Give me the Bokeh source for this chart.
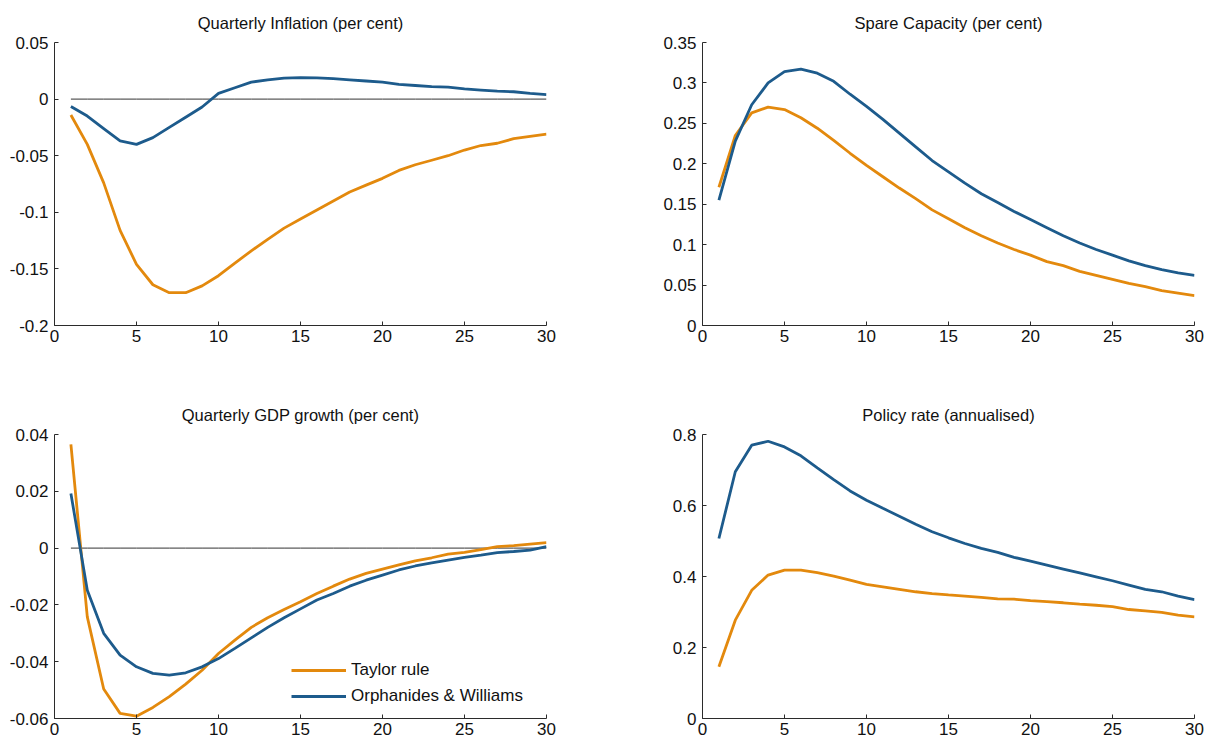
from bokeh.plotting import figure
from bokeh.layouts import column, row
from bokeh.models import (Legend, LegendItem, FixedTicker, Range1d,
                          CustomJSTickFormatter)
from bokeh.embed import file_html
from bokeh.resources import INLINE

# ---------------- data ----------------
quarters = list(range(1, 31))
zeros = [0.0] * len(quarters)

infl_taylor = [-0.014, -0.040, -0.074, -0.116, -0.146, -0.164, -0.171, -0.171, -0.165, -0.156,
               -0.145, -0.134, -0.124, -0.114, -0.106, -0.098, -0.090, -0.082, -0.076, -0.070,
               -0.063, -0.058, -0.054, -0.050, -0.045, -0.041, -0.039, -0.035, -0.033, -0.031]
infl_ow = [-0.0065, -0.015, -0.026, -0.037, -0.040, -0.034, -0.025, -0.016, -0.007, 0.005,
           0.010, 0.015, 0.017, 0.0185, 0.019, 0.0188, 0.018, 0.017, 0.016, 0.015,
           0.013, 0.012, 0.011, 0.0105, 0.009, 0.008, 0.007, 0.0065, 0.005, 0.004]

spare_taylor = [0.171, 0.235, 0.263, 0.270, 0.267, 0.257, 0.244, 0.229, 0.213, 0.198,
                0.184, 0.170, 0.157, 0.143, 0.132, 0.121, 0.111, 0.102, 0.094, 0.087,
                0.079, 0.074, 0.067, 0.062, 0.057, 0.052, 0.048, 0.043, 0.040, 0.037]
spare_ow = [0.155, 0.228, 0.273, 0.300, 0.314, 0.317, 0.312, 0.302, 0.286, 0.271,
            0.255, 0.238, 0.221, 0.204, 0.190, 0.176, 0.163, 0.152, 0.141, 0.131,
            0.121, 0.111, 0.102, 0.094, 0.087, 0.080, 0.074, 0.069, 0.065, 0.062]

gdp_taylor = [0.0365, -0.0242, -0.0496, -0.0582, -0.0592, -0.0561, -0.0523, -0.0479, -0.0430, -0.0371,
              -0.0324, -0.0279, -0.0245, -0.0216, -0.0189, -0.0160, -0.0134, -0.0109, -0.0089, -0.0074,
              -0.0059, -0.0045, -0.0034, -0.0021, -0.0015, -0.0005, 0.0005, 0.0009, 0.0014, 0.0019]
gdp_ow = [0.0192, -0.0148, -0.0300, -0.0377, -0.0418, -0.0441, -0.0447, -0.0439, -0.0418, -0.0389,
          -0.0353, -0.0316, -0.0279, -0.0245, -0.0214, -0.0183, -0.0160, -0.0134, -0.0113, -0.0095,
          -0.0077, -0.0063, -0.0052, -0.0042, -0.0033, -0.0025, -0.0016, -0.0012, -0.0007, 0.0005]

policy_taylor = [0.146, 0.277, 0.361, 0.404, 0.418, 0.418, 0.411, 0.401, 0.390, 0.378,
                 0.371, 0.364, 0.357, 0.352, 0.348, 0.345, 0.341, 0.337, 0.336, 0.332,
                 0.329, 0.326, 0.322, 0.319, 0.315, 0.307, 0.303, 0.299, 0.291, 0.286]
policy_ow = [0.507, 0.695, 0.770, 0.781, 0.765, 0.740, 0.706, 0.673, 0.641, 0.615,
             0.592, 0.570, 0.547, 0.526, 0.509, 0.493, 0.479, 0.468, 0.454, 0.443,
             0.432, 0.421, 0.410, 0.399, 0.388, 0.376, 0.364, 0.357, 0.345, 0.335]

x_ticks = [0, 5, 10, 15, 20, 25, 30]
infl_ticks = [-0.2, -0.15, -0.1, -0.05, 0, 0.05]
spare_ticks = [0, 0.05, 0.1, 0.15, 0.2, 0.25, 0.3, 0.35]
gdp_ticks = [-0.06, -0.04, -0.02, 0, 0.02, 0.04]
policy_ticks = [0, 0.2, 0.4, 0.6, 0.8]

titles = ["Quarterly Inflation (per cent)", "Spare Capacity (per cent)",
          "Quarterly GDP growth (per cent)", "Policy rate (annualised)"]
series_names = ["Taylor rule", "Orphanides & Williams"]

ORANGE = "#E3890D"
BLUE = "#1D5B8C"
FONT = "Liberation Sans"
AXIS = "#2b2b2b"

fmt = CustomJSTickFormatter(code="return String(Math.round(tick*1000)/1000);")


def panel(title, yticks, taylor, ow, left, right, top, bottom, fh, zero=True):
    p = figure(frame_width=492, frame_height=fh,
               min_border_left=left, min_border_right=right,
               min_border_top=top, min_border_bottom=bottom,
               x_range=Range1d(0, 30), y_range=Range1d(yticks[0], yticks[-1]),
               output_backend="svg", toolbar_location=None,
               background_fill_color="white", border_fill_color="white")
    p.outline_line_color = None
    p.xgrid.grid_line_color = None
    p.ygrid.grid_line_color = None
    p.title.text = title
    p.title.align = "center"
    p.title.vertical_align = "middle"
    p.title.text_font = FONT
    p.title.text_font_style = "normal"
    p.title.text_font_size = "16.5px"
    p.title.text_color = "#111111"
    p.title.standoff = 20

    p.xaxis.ticker = FixedTicker(ticks=x_ticks)
    p.yaxis.ticker = FixedTicker(ticks=yticks)
    p.yaxis.formatter = fmt
    for ax in (p.xaxis[0], p.yaxis[0]):
        ax.major_tick_in = 4
        ax.major_tick_out = 0
        ax.minor_tick_in = 0
        ax.minor_tick_out = 0
        ax.axis_line_color = AXIS
        ax.major_tick_line_color = AXIS
        ax.major_label_text_font = FONT
        ax.major_label_text_font_size = "17px"
        ax.major_label_text_color = "#111111"
    p.xaxis.major_label_standoff = 4
    p.yaxis.major_label_standoff = 6

    if zero:
        p.line(quarters, zeros, line_color="#333333", line_width=1)
    rt = p.line(quarters, taylor, line_color=ORANGE, line_width=2.8)
    ro = p.line(quarters, ow, line_color=BLUE, line_width=2.8)
    return p, rt, ro


p1, _, _ = panel(titles[0], infl_ticks, infl_taylor, infl_ow, 54, 102, 42, 67, 283)
p2, _, _ = panel(titles[1], spare_ticks, spare_taylor, spare_ow, 54, 13, 42, 67, 283)
p3, rt3, ro3 = panel(titles[2], gdp_ticks, gdp_taylor, gdp_ow, 54, 102, 42, 22, 284)
p4, _, _ = panel(titles[3], policy_ticks, policy_taylor, policy_ow, 54, 13, 42, 22, 284, zero=False)

legend = Legend(items=[LegendItem(label=series_names[0], renderers=[rt3]),
                       LegendItem(label=series_names[1], renderers=[ro3])],
                location=(237, 12), glyph_width=55, glyph_height=20, label_height=20,
                spacing=6, padding=0, margin=0, label_standoff=5,
                border_line_color=None, background_fill_alpha=0,
                label_text_font=FONT, label_text_font_size="17px",
                label_text_color="#111111")
p3.add_layout(legend)

layout = column(row(p1, p2), row(p3, p4))

open("out.html", "w").write(file_html(layout, INLINE))
